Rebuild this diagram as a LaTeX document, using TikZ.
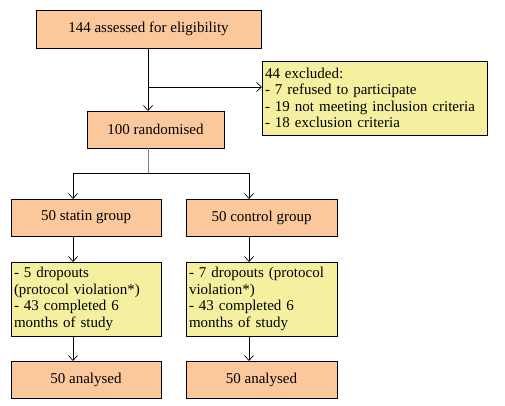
\documentclass[tikz,border=0pt]{standalone}
\usepackage{fontspec}
\setmainfont{Liberation Serif}
\usetikzlibrary{arrows.meta}
\definecolor{peach}{RGB}{250,200,155}
\definecolor{paleyel}{RGB}{245,240,160}
\begin{document}
\begin{tikzpicture}[x=1pt,y=-1pt,
  every node/.style={font=\fontsize{15}{16.5}\selectfont, inner sep=0pt, outer sep=0pt},
  obox/.style={draw=black, line width=0.9pt, fill=peach, anchor=north west},
  ybox/.style={draw=black, line width=0.9pt, fill=paleyel, anchor=north west, align=left, inner xsep=3pt, inner ysep=0pt},
  arr/.style={-{Straight Barb[length=5pt,width=9pt]}, line width=0.7pt}]
\useasboundingbox (0,0) rectangle (505,406);
\node[obox, minimum width=225pt, minimum height=38pt] (assess) at (36,10) {144 assessed for eligibility};
\node[ybox, minimum width=225pt, minimum height=74pt, text width=219pt] (excl) at (262,61) {44 excluded:\\- 7 refused to participate\\- 19 not meeting inclusion criteria\\- 18 exclusion criteria};
\node[obox, minimum width=137pt, minimum height=37pt] (rand) at (87,111) {100 randomised};
\node[obox, minimum width=150pt, minimum height=37pt] (statin) at (11,199) {50 statin group};
\node[obox, minimum width=151pt, minimum height=37pt] (control) at (186,199) {50 control group};
\node[ybox, minimum width=150pt, minimum height=74pt, text width=144pt] (dropA) at (11,262) {- 5 dropouts\\(protocol violation*)\\- 43 completed 6\\months of study};
\node[ybox, minimum width=151pt, minimum height=74pt, text width=145pt] (dropB) at (186,262) {- 7 dropouts (protocol\\violation*)\\- 43 completed 6\\months of study};
\node[obox, minimum width=150pt, minimum height=37pt] (anA) at (11,361) {50 analysed};
\node[obox, minimum width=151pt, minimum height=37pt] (anB) at (186,361) {50 analysed};
\coordinate (split) at (148,87);
\coordinate (fork) at (148,173);
\draw[arr] (assess.south -| split) -- (rand.north -| split);
\draw[arr] (split) -- (excl.west |- split);
\draw[line width=0.7pt, gray] (rand.south -| fork) -- (fork);
\draw[arr] (fork) -| (statin.north -| 73,0);
\draw[arr] (fork) -| (control.north -| 249,0);
\draw[arr] (statin.south -| 73,0) -- (dropA.north -| 73,0);
\draw[arr] (control.south -| 249,0) -- (dropB.north -| 249,0);
\draw[arr] (dropA.south -| 73,0) -- (anA.north -| 73,0);
\draw[arr] (dropB.south -| 249,0) -- (anB.north -| 249,0);
\end{tikzpicture}
\end{document}
